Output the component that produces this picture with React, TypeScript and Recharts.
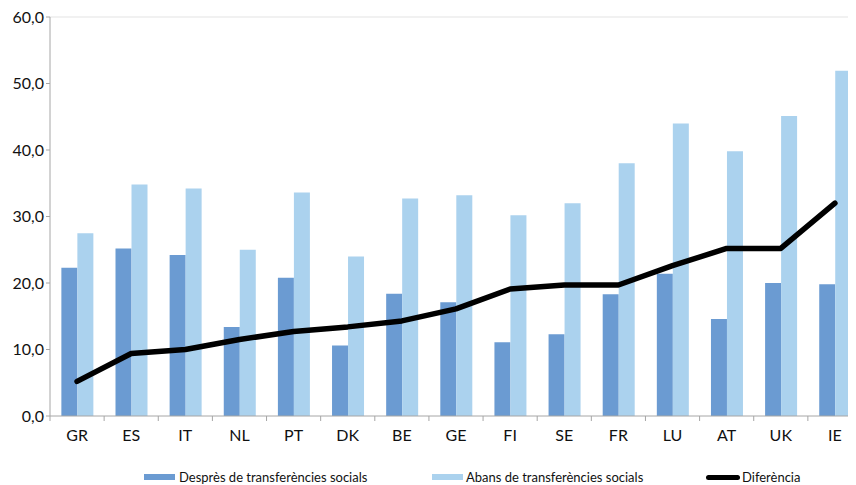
import React from 'react';
import { ComposedChart, Bar, Line, XAxis, YAxis, CartesianGrid } from 'recharts';

const countries = ['GR', 'ES', 'IT', 'NL', 'PT', 'DK', 'BE', 'GE', 'FI', 'SE', 'FR', 'LU', 'AT', 'UK', 'IE'];
const despres = [22.3, 25.2, 24.2, 13.4, 20.8, 10.6, 18.4, 17.1, 11.1, 12.3, 18.3, 21.4, 14.6, 20.0, 19.8];
const abans = [27.5, 34.8, 34.2, 25.0, 33.6, 24.0, 32.7, 33.2, 30.2, 32.0, 38.0, 44.0, 39.8, 45.1, 51.9];
const diferencia = [5.2, 9.4, 10.0, 11.5, 12.7, 13.4, 14.3, 16.1, 19.1, 19.7, 19.7, 22.6, 25.2, 25.2, 32.0];
const yTicks = [0, 10, 20, 30, 40, 50, 60];
const legendLabels = ['Desprès de transferències socials', 'Abans de transferències socials', 'Diferència'];

const data = countries.map((c, i) => ({
  country: c,
  despres: despres[i],
  abans: abans[i],
  diferencia: diferencia[i],
}));

const FONT = 'Lato, "Open Sans", sans-serif';
const DARK = '#6b9bd2';
const LIGHT = '#abd2ee';
const TEXT = '#111111';

const CHART_W = 854;
const CHART_H = 477;
const YAXIS_W = 42;
const PLOT_W = CHART_W - YAXIS_W;
const BAND = PLOT_W / countries.length;

const XTick = (props: any) => {
  const { x, y, payload, index } = props;
  return (
    <g>
      <line x1={x - BAND / 2} y1={y - 8} x2={x - BAND / 2} y2={y - 3} stroke="#a6a6a6" strokeWidth={1} />
      {index === countries.length - 1 ? (
        <line x1={x + BAND / 2} y1={y - 8} x2={x + BAND / 2} y2={y - 3} stroke="#a6a6a6" strokeWidth={1} />
      ) : null}
      <text x={x} y={y + 17} textAnchor="middle" fill={TEXT} fontSize={16} fontFamily={FONT}>
        {payload.value}
      </text>
    </g>
  );
};

const fmt = (v: number) => v.toFixed(1).replace('.', ',');

const LegendBlock = () => (
  <div style={{ position: 'absolute', left: 0, top: 462, width: 848, height: 15, fontFamily: FONT, fontSize: 13, lineHeight: '15px', color: TEXT }}>
    <div style={{ position: 'absolute', left: 136, top: 4, width: 31, height: 6, background: DARK }} />
    <div style={{ position: 'absolute', left: 171, top: 0, whiteSpace: 'nowrap' }}>{legendLabels[0]}</div>
    <div style={{ position: 'absolute', left: 424, top: 4, width: 31, height: 6, background: LIGHT }} />
    <div style={{ position: 'absolute', left: 458, top: 0, whiteSpace: 'nowrap' }}>{legendLabels[1]}</div>
    <div style={{ position: 'absolute', left: 698, top: 5, width: 34, height: 5, background: '#000', borderRadius: 3 }} />
    <div style={{ position: 'absolute', left: 734, top: 0, whiteSpace: 'nowrap' }}>{legendLabels[2]}</div>
  </div>
);

export default function App() {
  return (
    <div style={{ position: 'relative', width: 848, height: CHART_H, overflow: 'hidden', background: '#fff' }}>
      <ComposedChart
        width={CHART_W}
        height={CHART_H}
        data={data}
        margin={{ top: 9, right: 0, bottom: 39, left: 0 }}
        barGap={0}
        barCategoryGap="21%"
      >
        <CartesianGrid horizontal={true} vertical={false} stroke="#e3e3e3" horizontalValues={[60]} />
        <XAxis
          dataKey="country"
          tick={<XTick />}
          tickLine={false}
          axisLine={{ stroke: '#a6a6a6' }}
          interval={0}
          height={30}
        />
        <YAxis
          width={YAXIS_W}
          domain={[0, 60]}
          ticks={yTicks}
          tickFormatter={fmt}
          tick={{ fill: TEXT, fontSize: 16, fontFamily: FONT }}
          tickSize={4}
          tickLine={{ stroke: '#a6a6a6' }}
          axisLine={{ stroke: '#a6a6a6' }}
          interval={0}
        />
        <Bar dataKey="despres" name={legendLabels[0]} fill={DARK} isAnimationActive={false} />
        <Bar dataKey="abans" name={legendLabels[1]} fill={LIGHT} isAnimationActive={false} />
        <Line
          dataKey="diferencia"
          name={legendLabels[2]}
          type="linear"
          stroke="#000"
          strokeWidth={5.5}
          dot={false}
          activeDot={false}
          strokeLinejoin="round"
          strokeLinecap="round"
          isAnimationActive={false}
        />
      </ComposedChart>
      <LegendBlock />
    </div>
  );
}
